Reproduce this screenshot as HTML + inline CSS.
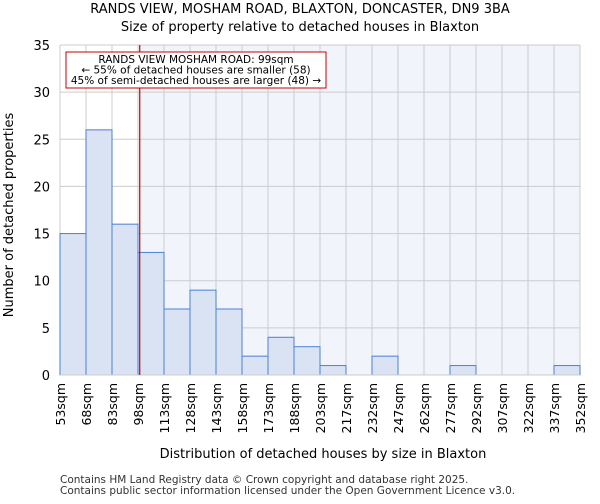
<!DOCTYPE html>
<html><head><meta charset="utf-8"><style>
body{margin:0;background:#fff;font-family:"DejaVu Sans","Liberation Sans",sans-serif}
svg text{font-family:"DejaVu Sans","Liberation Sans",sans-serif}
</style></head><body>
<svg id="c" width="600" height="500" xmlns="http://www.w3.org/2000/svg">
<text x="300" y="13" text-anchor="middle" font-size="13">RANDS VIEW, MOSHAM ROAD, BLAXTON, DONCASTER, DN9 3BA</text>
<text x="300" y="31" text-anchor="middle" font-size="13">Size of property relative to detached houses in Blaxton</text>
<g id="plot"></g>
<text x="323" y="458" text-anchor="middle" font-size="13">Distribution of detached houses by size in Blaxton</text>
<text transform="translate(13,215) rotate(-90)" text-anchor="middle" font-size="13">Number of detached properties</text>
<text x="60" y="483" font-size="10.5" fill="#333">Contains HM Land Registry data © Crown copyright and database right 2025.</text>
<text x="60" y="494" font-size="10.5" fill="#333">Contains public sector information licensed under the Open Government Licence v3.0.</text>
</svg>
<script>
const binLabels=["53sqm","68sqm","83sqm","98sqm","113sqm","128sqm","143sqm","158sqm","173sqm","188sqm","203sqm","217sqm","232sqm","247sqm","262sqm","277sqm","292sqm","307sqm","322sqm","337sqm","352sqm"];
const binEdges=[53,68,83,98,113,128,143,158,173,188,203,217,232,247,262,277,292,307,322,337,352];
const counts=[15,26,16,13,7,9,7,2,4,3,1,0,2,0,0,1,0,0,0,1];
const yTicks=[0,5,10,15,20,25,30,35];
const markerValue=99;
const NS="http://www.w3.org/2000/svg";
const L=60,R=580,T=45,B=375,yMax=35;
const n=counts.length;
const xi=i=>L+i*(R-L)/n;
const y=v=>B-v*(B-T)/yMax;
function xv(v){for(let i=0;i<n;i++){if(v>=binEdges[i]&&v<=binEdges[i+1])return xi(i)+(v-binEdges[i])/(binEdges[i+1]-binEdges[i])*(xi(i+1)-xi(i));}return L;}
const g=document.getElementById('plot');
function mk(t,a){const e=document.createElementNS(NS,t);for(const k in a)e.setAttribute(k,a[k]);g.appendChild(e);return e;}
const mx=xv(markerValue);
let e=mk('rect',{x:mx,y:T,width:R-mx,height:B-T,fill:'#f2f4fc'});


yTicks.forEach(t=>{
 let l=mk('line',{x1:L,x2:R,y1:y(t),y2:y(t),stroke:'#ccc','stroke-width':1});
 
 
 let tx=mk('text',{x:L-10,y:y(t)+5,'text-anchor':'end','font-size':13});
 tx.textContent=t;
 
 
});
binLabels.forEach((lab,i)=>{
 let l=mk('line',{x1:xi(i),x2:xi(i),y1:T,y2:B,stroke:'#ccc','stroke-width':1});
 
 
 let tx=mk('text',{transform:`translate(${xi(i)+5},383) rotate(-90)`,'text-anchor':'end','font-size':12.5});
 tx.textContent=lab;
 
 
});
counts.forEach((c,i)=>{
 if(c<=0)return;
 let r=mk('rect',{x:xi(i),y:y(c),width:xi(i+1)-xi(i),height:B-y(c),fill:'#dae3f4',stroke:'#4a7fd4','stroke-width':1});
 
 
});
let ax=mk('line',{x1:L,x2:R,y1:B,y2:B,stroke:'#ccc'});


let ml=mk('line',{x1:mx,x2:mx,y1:T,y2:B,stroke:'#cc0000','stroke-width':1.2});


let box=mk('rect',{x:66,y:52,width:260,height:36,fill:'#fff',stroke:'#cc0000','stroke-width':1});


["RANDS VIEW MOSHAM ROAD: 99sqm","← 55% of detached houses are smaller (58)","45% of semi-detached houses are larger (48) →"].forEach((s,i)=>{
 let t=mk('text',{x:196,y:63+i*10.5,'text-anchor':'middle','font-size':10.5});
 t.textContent=s;
 
 
});
</script>
</body></html>
